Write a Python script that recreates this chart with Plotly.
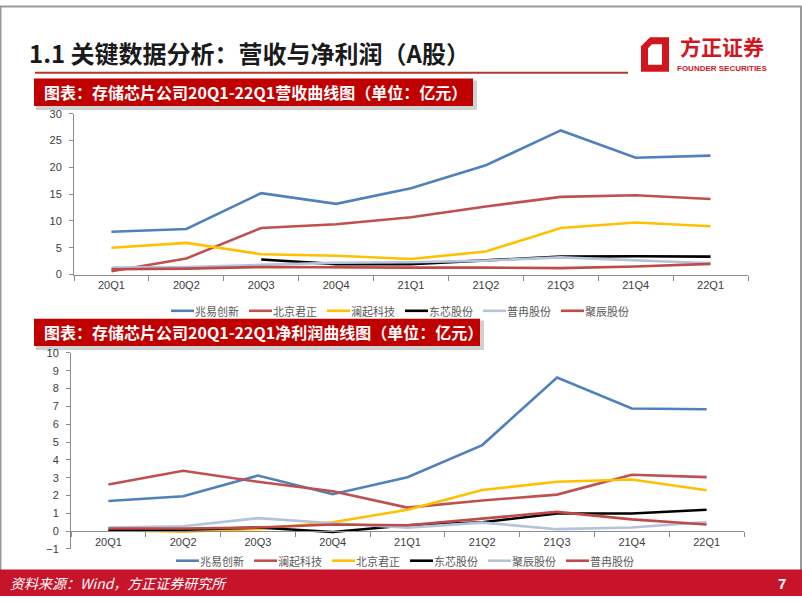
import plotly.graph_objects as go

W, H = 802, 602

quarters = ["20Q1", "20Q2", "20Q3", "20Q4", "21Q1", "21Q2", "21Q3", "21Q4", "22Q1"]

# Chart 1: revenue (亿元)
rev_names = ["兆易创新", "北京君正", "澜起科技", "东芯股份", "普冉股份", "聚辰股份"]
rev_zyc = [8.0, 8.5, 15.2, 13.2, 16.1, 20.4, 26.9, 21.8, 22.2]
rev_bjjz = [0.6, 3.0, 8.7, 9.4, 10.7, 12.7, 14.5, 14.8, 14.1]
rev_lq = [5.0, 5.9, 3.8, 3.5, 2.9, 4.3, 8.7, 9.7, 9.0]
rev_dx = [None, None, 2.8, 1.95, 1.95, 2.6, 3.35, 3.4, 3.35]
rev_pr = [1.3, 1.4, 1.8, 2.2, 2.3, 2.6, 3.2, 2.7, 2.1]
rev_jc = [1.0, 1.1, 1.4, 1.3, 1.3, 1.3, 1.2, 1.5, 2.0]
rev_series = [rev_zyc, rev_bjjz, rev_lq, rev_dx, rev_pr, rev_jc]
rev_ticks = [0, 5, 10, 15, 20, 25, 30]

# Chart 2: net profit (亿元)
np_names = ["兆易创新", "澜起科技", "北京君正", "东芯股份", "聚辰股份", "普冉股份"]
np_zyc = [1.69, 1.96, 3.12, 2.07, 3.03, 4.83, 8.62, 6.88, 6.84]
np_lq = [2.62, 3.39, 2.77, 2.24, 1.32, 1.72, 2.05, 3.16, 3.03]
np_bjjz = [0.05, -0.03, 0.12, 0.5, 1.2, 2.31, 2.77, 2.9, 2.29]
np_dx = [0.05, 0.08, 0.2, -0.05, 0.33, 0.5, 0.99, 0.99, 1.2]
np_jc = [0.2, 0.27, 0.73, 0.44, 0.2, 0.48, 0.11, 0.2, 0.51]
np_pr = [0.15, 0.15, 0.2, 0.37, 0.33, 0.72, 1.08, 0.66, 0.37]
np_series = [np_zyc, np_lq, np_bjjz, np_dx, np_jc, np_pr]
np_ticks = list(range(-1, 11))

colors = ["#4F81BD", "#C0504D", "#FFC000", "#000000", "#B4C2DC", "#BE4B48"]


def px(x):
    return x / W


def py(y):
    return 1 - y / H


fig = go.Figure()
for name, vals, c in zip(rev_names, rev_series, colors):
    fig.add_trace(go.Scatter(x=quarters, y=vals, name=name, mode="lines",
                             line=dict(color=c, width=2.6),
                             xaxis="x", yaxis="y", showlegend=False))
for name, vals, c in zip(np_names, np_series, colors):
    fig.add_trace(go.Scatter(x=quarters, y=vals, name=name, mode="lines",
                             line=dict(color=c, width=2.6),
                             xaxis="x2", yaxis="y2", showlegend=False))

tickfont = dict(family="Liberation Sans, Noto Sans CJK SC", size=11, color="#404040")
axcol = "#8C8C8C"

common_x = dict(type="category", tickson="boundaries", ticks="outside", ticklen=5,
                tickcolor=axcol, showline=True, linecolor=axcol, linewidth=1,
                showgrid=False, zeroline=False, tickfont=tickfont, fixedrange=True,
                range=[-0.5, len(quarters) - 0.5])
common_y = dict(ticks="outside", ticklen=4, tickcolor=axcol, showline=True,
                linecolor=axcol, linewidth=1, showgrid=False, zeroline=False,
                tickfont=tickfont, ticklabelstandoff=5, fixedrange=True)

cjk = "Noto Sans CJK SC"
shapes = []
annotations = []

# slide border
shapes.append(dict(type="rect", xref="paper", yref="paper", x0=px(0.5), x1=px(801),
                   y0=py(601), y1=py(0.5), line=dict(color="#9A9A9A", width=2), layer="below"))
# title underline
shapes.append(dict(type="line", xref="paper", yref="paper", x0=px(35), x1=px(628),
                   y0=py(68), y1=py(68), line=dict(color="#B5382F", width=2)))


def P(x, y):
    return f"{px(x):.5f},{py(y):.5f}"


# logo icon
shapes.append(dict(type="path", xref="paper", yref="paper",
                   path=f"M{P(650,32)} L{P(669,32)} L{P(669,67)} L{P(641,67)} L{P(641,41)} Z",
                   fillcolor="#D2161E", line=dict(width=0)))
shapes.append(dict(type="path", xref="paper", yref="paper",
                   path=f"M{P(652,39)} L{P(662,39)} L{P(662,60)} L{P(648,60)} L{P(648,43)} Z",
                   fillcolor="white", line=dict(width=0)))
# title boxes with shadow
for (x0, x1, y0, y1) in [(34, 473, 74, 102), (34, 480, 319, 347)]:
    shapes.append(dict(type="rect", xref="paper", yref="paper", x0=px(x0 + 2), x1=px(x1 + 4),
                       y0=py(y1 + 4), y1=py(y0 + 2), fillcolor="rgba(0,0,0,0.18)",
                       line=dict(width=0)))
    shapes.append(dict(type="rect", xref="paper", yref="paper", x0=px(x0), x1=px(x1),
                       y0=py(y1), y1=py(y0), fillcolor="#C00000", line=dict(width=0)))
# footer band
shapes.append(dict(type="rect", xref="paper", yref="paper", x0=0, x1=1,
                   y0=0, y1=py(575), fillcolor="#C8142A", line=dict(width=0)))

# custom legends (line sample + label)
for names, x_start, y_leg in [(rev_names, 171, 311), (np_names, 176, 566)]:
    for i, (name, c) in enumerate(zip(names, colors)):
        lx = x_start + 78 * i
        shapes.append(dict(type="line", xref="paper", yref="paper", x0=px(lx), x1=px(lx + 23),
                           y0=py(y_leg), y1=py(y_leg), line=dict(color=c, width=2.6)))
        annotations.append(dict(text=name, x=px(lx + 22), y=py(y_leg + 0.5), xanchor="left",
                                yanchor="middle", font=dict(family=cjk, size=11, color="#595959")))

annotations += [
    dict(text="<b>1.1 关键数据分析：营收与净利润（A股）</b>", x=px(27), y=py(47),
         xanchor="left", yanchor="middle", font=dict(family=cjk, size=24, color="#1A1A1A")),
    dict(text="<b>方正证券</b>", x=px(722), y=py(41), xanchor="center", yanchor="middle",
         font=dict(family=cjk, size=21, color="#D2161E"), borderpad=0),
    dict(text="<b>FOUNDER SECURITIES</b>", x=px(722), y=py(63.5), xanchor="center", yanchor="middle",
         font=dict(family="Liberation Sans", size=8, color="#D2161E"), borderpad=0),
    dict(text="<b>图表：存储芯片公司20Q1-22Q1营收曲线图（单位：亿元）</b>", x=px(42), y=py(88),
         xanchor="left", yanchor="middle", font=dict(family=cjk, size=16, color="white")),
    dict(text="<b>图表：存储芯片公司20Q1-22Q1净利润曲线图（单位：亿元）</b>", x=px(42), y=py(333),
         xanchor="left", yanchor="middle", font=dict(family=cjk, size=16, color="white")),
    dict(text="<i>资料来源：Wind，方正证券研究所</i>", x=px(8), y=py(589), xanchor="left",
         yanchor="middle", font=dict(family=cjk, size=14, color="white")),
    dict(text="<b>7</b>", x=px(782), y=py(589), xanchor="center", yanchor="middle",
         font=dict(family="Liberation Sans", size=15, color="white")),
]
for a in annotations:
    a.update(xref="paper", yref="paper", showarrow=False)

fig.update_layout(
    width=W, height=H, margin=dict(l=0, r=0, t=0, b=0),
    paper_bgcolor="white", plot_bgcolor="rgba(0,0,0,0)",
    xaxis=dict(domain=[px(74), px(748)], anchor="y", **common_x),
    yaxis=dict(domain=[py(274), py(110)], range=[0, 30], tickvals=rev_ticks, anchor="x", **common_y),
    xaxis2=dict(domain=[px(71), px(744)], anchor="free", position=py(536), **common_x),
    yaxis2=dict(domain=[py(554), py(354)], range=[-1, 10], tickvals=np_ticks, anchor="x2", **common_y),
    shapes=shapes, annotations=annotations, showlegend=False, hovermode=False,
)

fig.write_html("out.html", config={"displayModeBar": False, "staticPlot": True},
               post_script="document.body.style.margin='0';document.body.style.overflow='hidden';")
